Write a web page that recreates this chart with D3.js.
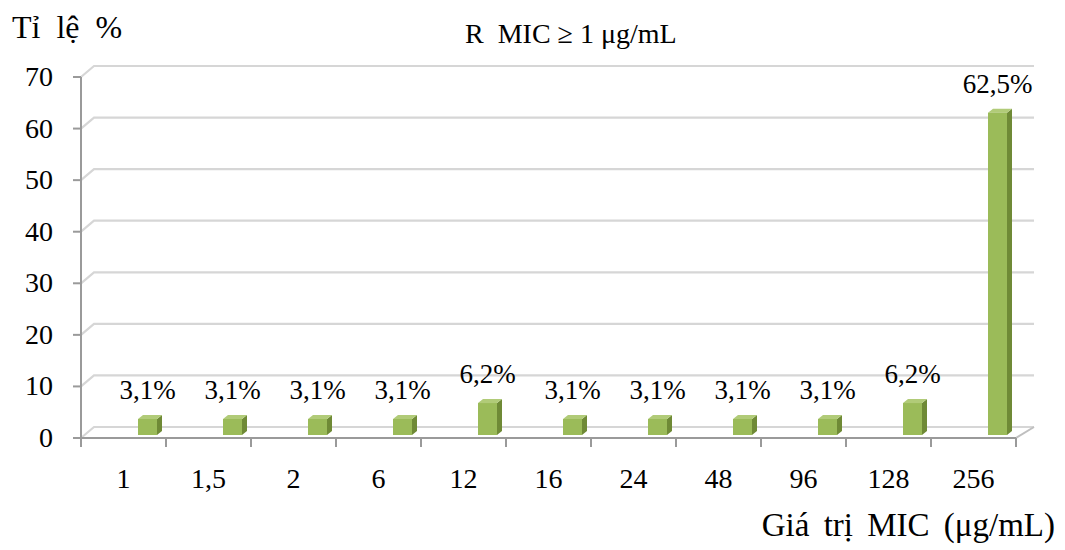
<!DOCTYPE html>
<html>
<head>
<meta charset="utf-8">
<script src="https://cdn.jsdelivr.net/npm/d3@7"></script>
<style>
  body { margin: 0; background: #fff; }
  text { font-family: "Liberation Serif", "Times New Roman", serif; fill: #000; }
</style>
</head>
<body>
<svg id="chart" width="1065" height="550"></svg>
<script>
const categories = ["1", "1,5", "2", "6", "12", "16", "24", "48", "96", "128", "256"]
const values = [3.1, 3.1, 3.1, 3.1, 6.2, 3.1, 3.1, 3.1, 3.1, 6.2, 62.5]
const yTicks = [0, 10, 20, 30, 40, 50, 60, 70]

const svg = d3.select("#chart")

// front plane + depth offset (fake 3D)
const plotLeft = 81, plotRight = 1016, plotBottom = 438, plotTop = 77
const depth = {dx: 13, dy: -11}
const depthRight = 18

const x = d3.scaleBand().domain(categories).range([plotLeft, plotRight])
const y = d3.scaleLinear().domain([0, 70]).range([plotBottom, plotTop])
// bars sit a little back on the floor
const yBar = d3.scaleLinear().domain([0, 70]).range([plotBottom - 3, plotTop - 3])

// wall gridlines with side-wall diagonals
const grid = svg.append("g")
grid.selectAll("path")
  .data(yTicks)
  .join("path")
  .attr("d", d => `M${plotLeft},${y(d)} L${plotLeft + depth.dx},${y(d) + depth.dy} L${plotRight + depthRight},${y(d) + depth.dy}`)
  .attr("fill", "none")
  .attr("stroke", "#d6d6d6")
  .attr("stroke-width", 2.2)

// floor right edge
svg.append("line")
  .attr("x1", plotRight).attr("y1", plotBottom)
  .attr("x2", plotRight + depthRight).attr("y2", plotBottom + depth.dy)
  .attr("stroke", "#bfbfbf").attr("stroke-width", 2)

// y axis
svg.append("line")
  .attr("x1", plotLeft).attr("x2", plotLeft)
  .attr("y1", plotTop).attr("y2", plotBottom + 8)
  .attr("stroke", "#9a9a9a").attr("stroke-width", 2)

svg.append("g").selectAll("line")
  .data(yTicks)
  .join("line")
  .attr("x1", plotLeft - 8).attr("x2", plotLeft)
  .attr("y1", d => y(d)).attr("y2", d => y(d))
  .attr("stroke", "#9a9a9a").attr("stroke-width", 2)

svg.append("g").selectAll("text")
  .data(yTicks)
  .join("text")
  .attr("x", 53)
  .attr("y", d => y(d) + 9)
  .attr("text-anchor", "end")
  .style("font-size", "28px")
  .text(d => d)

// x axis
svg.append("line")
  .attr("x1", plotLeft - 8).attr("x2", plotRight)
  .attr("y1", plotBottom).attr("y2", plotBottom)
  .attr("stroke", "#9a9a9a").attr("stroke-width", 2)

const xTicks = categories.map(c => x(c)).concat([plotRight])
svg.append("g").selectAll("line")
  .data(xTicks)
  .join("line")
  .attr("x1", d => d).attr("x2", d => d)
  .attr("y1", plotBottom).attr("y2", plotBottom + 9)
  .attr("stroke", "#9a9a9a").attr("stroke-width", 2)

svg.append("g").selectAll("text")
  .data(categories)
  .join("text")
  .attr("x", d => x(d) + x.bandwidth() / 2)
  .attr("y", 488)
  .attr("text-anchor", "middle")
  .style("font-size", "28px")
  .text(d => d)

// bars
const barW = 19, off = 14.5, bx = 5, by = -4
const bars = svg.append("g").selectAll("g")
  .data(categories.map((c, i) => ({cat: c, value: values[i]})))
  .join("g")

const x0 = d => x(d.cat) + x.bandwidth() / 2 + off
const base = yBar(0)

bars.append("path") // side
  .attr("d", d => {
    const a = x0(d) + barW, t = yBar(d.value)
    return `M${a},${t} L${a + bx},${t + by} L${a + bx},${base + by} L${a},${base} Z`
  })
  .attr("fill", "#6f8a36")

bars.append("path") // top
  .attr("d", d => {
    const a = x0(d), t = yBar(d.value)
    return `M${a},${t} L${a + bx},${t + by} L${a + barW + bx},${t + by} L${a + barW},${t} Z`
  })
  .attr("fill", "#b1cb78")

bars.append("rect") // front
  .attr("x", d => x0(d))
  .attr("y", d => yBar(d.value))
  .attr("width", barW)
  .attr("height", d => base - yBar(d.value))
  .attr("fill", "#9bbb59")

bars.append("text")
  .attr("x", d => x0(d) + barW / 2)
  .attr("y", d => yBar(d.value) - 20)
  .attr("text-anchor", "middle")
  .style("font-size", "27px")
  .text(d => String(d.value).replace(".", ",") + "%")

// titles
svg.append("text")
  .attr("x", 12).attr("y", 38)
  .style("font-size", "32px")
  .style("word-spacing", "8px")
  .text("Tỉ lệ %")

svg.append("text")
  .attr("x", 465).attr("y", 43)
  .style("font-size", "28px")
  .attr("xml:space", "preserve")
  .text("R  MIC ≥ 1 μg/mL")

svg.append("text")
  .attr("x", 1055).attr("y", 536)
  .attr("text-anchor", "end")
  .style("font-size", "33px")
  .style("word-spacing", "6px")
  .text("Giá trị MIC (μg/mL)")
</script>
</body>
</html>
